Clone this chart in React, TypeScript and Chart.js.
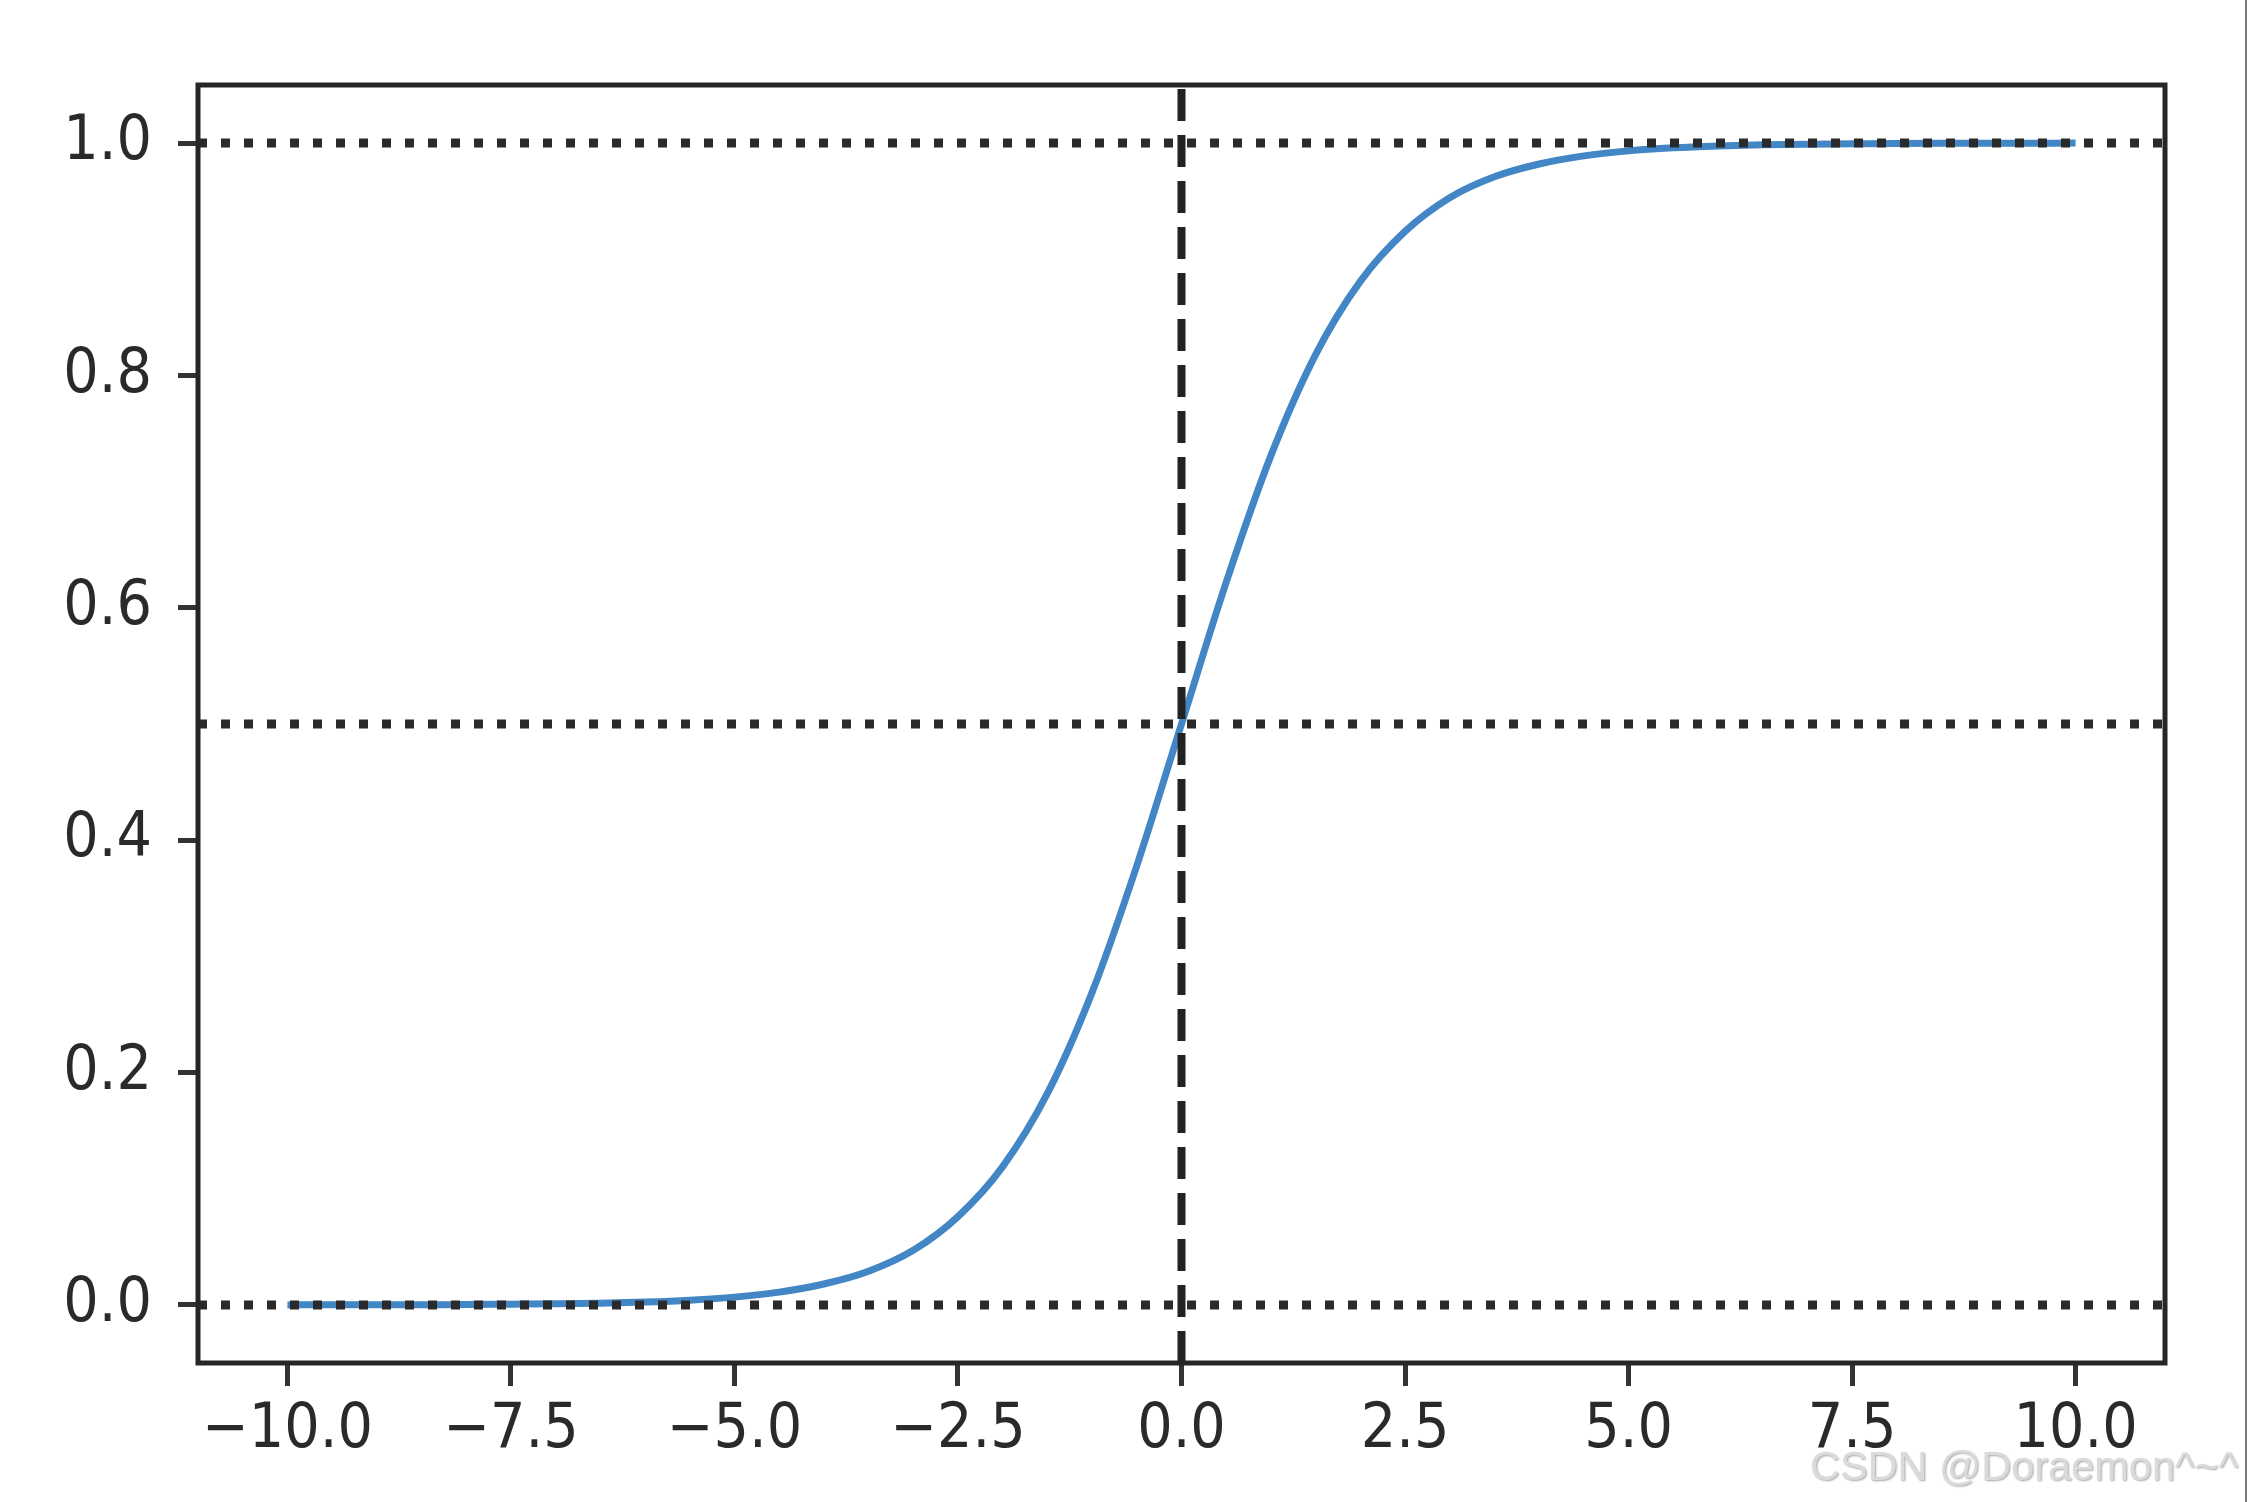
import React, { useEffect, useRef } from "react";
import { Chart, registerables } from "chart.js";

Chart.register(...registerables);

const xValues = [
  -10, -9.5, -9, -8.5, -8, -7.5, -7, -6.5, -6, -5.5, -5, -4.5, -4, -3.5, -3, -2.5, -2, -1.5, -1, -0.5,
  0, 0.5, 1, 1.5, 2, 2.5, 3, 3.5, 4, 4.5, 5, 5.5, 6, 6.5, 7, 7.5, 8, 8.5, 9, 9.5, 10,
];
const yValues = [
  0.0, 0.0001, 0.0001, 0.0002, 0.0003, 0.0006, 0.0009, 0.0015, 0.0025, 0.0041, 0.0067, 0.011, 0.018,
  0.029, 0.047, 0.076, 0.119, 0.182, 0.269, 0.378, 0.5, 0.622, 0.731, 0.818, 0.881, 0.924, 0.953, 0.971,
  0.982, 0.989, 0.9933, 0.9959, 0.9975, 0.9985, 0.9991, 0.9994, 0.9997, 0.9998, 0.9999, 0.9999, 1.0,
];
const hLineLevels = [0, 0.5, 1];
const vLineAt = 0;
const xTicks = [-10, -7.5, -5, -2.5, 0, 2.5, 5, 7.5, 10];
const yTicks = [0, 0.2, 0.4, 0.6, 0.8, 1.0];
const xRange = [-11, 11];
const yRange = [-0.05, 1.05];
const watermark = "CSDN @Doraemon^~^";

const fmt = (v: number) => v.toFixed(1).replace("-", "\u2212");

export default function App() {
  const ref = useRef<HTMLCanvasElement | null>(null);

  useEffect(() => {
    document.body.style.margin = "0";
    const canvas = ref.current;
    if (!canvas) return;

    const boxPlugin = {
      id: "boxPlugin",
      afterDatasetsDraw(chart: any) {
        const { ctx, chartArea } = chart;
        ctx.save();
        ctx.strokeStyle = "#262626";
        ctx.lineWidth = 5;
        ctx.strokeRect(chartArea.left, chartArea.top, chartArea.right - chartArea.left, chartArea.bottom - chartArea.top);
        ctx.restore();
      },
      afterDraw(chart: any) {
        const { ctx } = chart;
        ctx.save();
        ctx.strokeStyle = "#7a7a7a";
        ctx.lineWidth = 2;
        ctx.beginPath();
        ctx.moveTo(2246, 0);
        ctx.lineTo(2246, 1502);
        ctx.stroke();
        ctx.font = "41.5px 'Liberation Sans', Arial, sans-serif";
        ctx.textAlign = "left";
        ctx.textBaseline = "alphabetic";
        ctx.shadowColor = "rgba(0,0,0,0.35)";
        ctx.shadowBlur = 2;
        ctx.shadowOffsetX = 1;
        ctx.shadowOffsetY = 1;
        ctx.fillStyle = "#dadada";
        ctx.fillText(watermark, 1810, 1480);
        ctx.restore();
      },
    };

    const refDatasets: any[] = hLineLevels.map((lv) => ({
      data: [
        { x: xRange[0], y: lv },
        { x: xRange[1], y: lv },
      ],
      showLine: true,
      borderColor: "#2a2a2a",
      borderWidth: 9,
      borderDash: [9, 14],
      pointRadius: 0,
      order: 0,
    }));
    refDatasets.push({
      data: [
        { x: vLineAt, y: yRange[0] },
        { x: vLineAt, y: yRange[1] },
      ],
      showLine: true,
      borderColor: "#222222",
      borderWidth: 8,
      borderDash: [32, 14],
      pointRadius: 0,
      order: 0,
    });

    const tickFont = { family: "'DejaVu Sans Condensed', 'DejaVu Sans', sans-serif", size: 62 };

    const chart = new Chart(canvas, {
      type: "scatter",
      data: {
        datasets: [
          ...refDatasets,
          {
            data: xValues.map((x, i) => ({ x, y: yValues[i] })),
            showLine: true,
            borderColor: "#4286c5",
            borderWidth: 7,
            pointRadius: 0,
            cubicInterpolationMode: "monotone",
            order: 1,
          },
        ],
      },
      options: {
        animation: false,
        responsive: false,
        devicePixelRatio: 1,
        plugins: { legend: { display: false }, tooltip: { enabled: false } },
        layout: { padding: { top: 85, right: 83, left: 0, bottom: 0 } },
        scales: {
          x: {
            type: "linear",
            min: xRange[0],
            max: xRange[1],
            afterBuildTicks: (s: any) => {
              s.ticks = xTicks.map((v) => ({ value: v }));
            },
            afterFit: (s: any) => {
              s.height = 139;
            },
            border: { display: false },
            grid: {
              drawOnChartArea: false,
              drawTicks: true,
              tickLength: 23,
              tickWidth: 5,
              tickColor: "#333333",
            },
            ticks: {
              font: tickFont,
              color: "#2a2a2a",
              padding: 8,
              maxRotation: 0,
              autoSkip: false,
              callback: (v: any) => fmt(Number(v)),
            },
          },
          y: {
            type: "linear",
            min: yRange[0],
            max: yRange[1],
            afterBuildTicks: (s: any) => {
              s.ticks = yTicks.map((v) => ({ value: v }));
            },
            afterFit: (s: any) => {
              s.width = 198;
            },
            border: { display: false },
            grid: {
              drawOnChartArea: false,
              drawTicks: true,
              tickLength: 20,
              tickWidth: 5,
              tickColor: "#333333",
            },
            ticks: {
              font: tickFont,
              color: "#2a2a2a",
              padding: 26,
              autoSkip: false,
              callback: (v: any) => fmt(Number(v)),
            },
          },
        },
      },
      plugins: [boxPlugin],
    } as any);

    return () => chart.destroy();
  }, []);

  return (
    <div style={{ width: 2248, height: 1502, background: "#fff" }}>
      <canvas ref={ref} width={2248} height={1502} style={{ display: "block" }} />
    </div>
  );
}
